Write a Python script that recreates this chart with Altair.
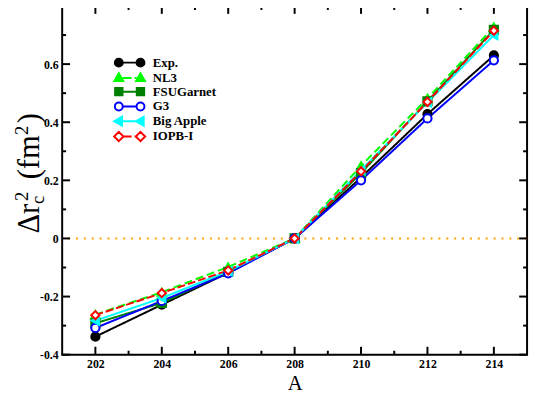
import altair as alt
import pandas as pd

# ---------------- data ----------------
A = [202, 204, 206, 208, 210, 212, 214]
series = ["Exp.", "NL3", "FSUGarnet", "G3", "Big Apple", "IOPB-I"]
exp_vals = [-0.338, -0.228, -0.118, 0.0, 0.210, 0.428, 0.630]
nl3_vals = [-0.262, -0.185, -0.098, 0.0, 0.250, 0.482, 0.728]
fsu_vals = [-0.292, -0.222, -0.115, 0.0, 0.225, 0.472, 0.718]
g3_vals = [-0.308, -0.215, -0.120, 0.0, 0.200, 0.413, 0.613]
bigapple_vals = [-0.283, -0.205, -0.113, 0.0, 0.235, 0.468, 0.700]
iopb_vals = [-0.264, -0.188, -0.110, 0.0, 0.231, 0.470, 0.715]

x_major = [202, 204, 206, 208, 210, 212, 214]
x_minor = [203, 205, 207, 209, 211, 213]
y_major = [-0.4, -0.2, 0.0, 0.2, 0.4, 0.6]
y_minor = [-0.3, -0.1, 0.1, 0.3, 0.5, 0.7]
zero_line = [0.0]

all_vals = [exp_vals, nl3_vals, fsu_vals, g3_vals, bigapple_vals, iopb_vals]
rows = []
for s, vals in zip(series, all_vals):
    for a, v in zip(A, vals):
        rows.append({"series": s, "A": a, "v": v})
df = pd.DataFrame(rows)

# ---------------- styles ----------------
colors = ["#000000", "#00ff00", "#008000", "#0000ff", "#00ffff", "#ff0000"]
fills = ["#000000", "#00ff00", "#008000", "#ffffff", "#00ffff", "#ffffff"]
dashes = [[1, 0], [8, 4], [1, 0], [1, 0], [1, 0], [8, 3]]
shapes = ["circle", "triangle-up", "square", "circle", "triangle-left", "diamond"]


def circ(cx, r=0.8):
    return f"M{cx - r},0A{r},{r} 0 1,0 {cx + r},0A{r},{r} 0 1,0 {cx - r},0Z"


def tri_up(cx):
    return f"M{cx},-0.95L{cx + 0.9},0.65L{cx - 0.9},0.65Z"


def sq(cx):
    return f"M{cx - 0.75},-0.75h1.5v1.5h-1.5Z"


def tri_left(cx):
    return f"M{cx - 0.95},0L{cx + 0.65},-0.9L{cx + 0.65},0.9Z"


def dia(cx):
    return f"M{cx},-0.95L{cx + 0.95},0L{cx},0.95L{cx - 0.95},0Z"


solid = "M-1.4,0L1.4,0"
dashed = "M-1.4,0L0.4,0M1.0,0L1.4,0"
legend_paths = [
    solid + circ(-2.2) + circ(2.2),
    dashed + tri_up(-2.2) + tri_up(2.2),
    solid + sq(-2.2) + sq(2.2),
    solid + circ(-2.2) + circ(2.2),
    solid + tri_left(-2.2) + tri_left(2.2),
    dashed + dia(-2.2) + dia(2.2),
]

FONT = "Liberation Serif"
W, H = 472, 354

xscale = alt.Scale(domain=[201, 215], nice=False, zero=False)
yscale = alt.Scale(domain=[-0.4, 0.8], nice=False, zero=False)

X_AXIS = alt.Axis(
    values=x_major, format="d", title="A", grid=False, domain=False, ticks=False,
    labelFont=FONT, labelFontWeight="bold", labelFontSize=12, labelColor="black",
    labelPadding=4, titleFont=FONT, titleFontWeight="normal", titleFontSize=21,
    titleColor="black", titlePadding=3,
)
Y_AXIS = alt.Axis(
    values=y_major, title=None, grid=False, domain=False, ticks=False,
    labelExpr="datum.value == 0 ? '0' : (datum.value < 0 ? '-' : '') + format(abs(datum.value), '.1f')",
    labelFont=FONT, labelFontWeight="bold", labelFontSize=12, labelColor="black",
    labelPadding=4,
)


def xf(field):
    return alt.X(field, type="quantitative", scale=xscale, axis=X_AXIS)


def yf(field):
    return alt.Y(field, type="quantitative", scale=yscale, axis=Y_AXIS)


base = alt.Chart(df)

# zero line
zero = alt.Chart(pd.DataFrame({"v": zero_line})).mark_rule(
    color="#ffa500", strokeWidth=2, strokeDash=[2, 6]
).encode(y=yf("v"))


# tick marks (inside, on all four sides)
def tick_layers():
    out = []
    for vals, ln in [(x_major, 8), (x_minor, 4)]:
        d = pd.DataFrame({"t": vals})
        out.append(alt.Chart(d).mark_rule(color="black", strokeWidth=2).encode(
            x=xf("t"), y=alt.value(H), y2=alt.value(H - ln)))
        out.append(alt.Chart(d).mark_rule(color="black", strokeWidth=2).encode(
            x=xf("t"), y=alt.value(0), y2=alt.value(ln)))
    for vals, ln in [(y_major, 8), (y_minor, 4)]:
        d = pd.DataFrame({"t": vals})
        out.append(alt.Chart(d).mark_rule(color="black", strokeWidth=2).encode(
            y=yf("t"), x=alt.value(0), x2=alt.value(ln)))
        out.append(alt.Chart(d).mark_rule(color="black", strokeWidth=2).encode(
            y=yf("t"), x=alt.value(W), x2=alt.value(W - ln)))
    return out


lines = base.mark_line(strokeWidth=2).encode(
    x=xf("A"), y=yf("v"),
    color=alt.Color("series:N", scale=alt.Scale(domain=series, range=colors), legend=None),
    strokeDash=alt.StrokeDash("series:N", scale=alt.Scale(domain=series, range=dashes), legend=None),
)

points = base.mark_point(size=70, strokeWidth=2, opacity=1).encode(
    x=xf("A"), y=yf("v"),
    shape=alt.Shape("series:N", scale=alt.Scale(domain=series, range=shapes), legend=None),
    stroke=alt.Stroke("series:N", scale=alt.Scale(domain=series, range=colors), legend=None),
    fill=alt.Fill("series:N", scale=alt.Scale(domain=series, range=fills), legend=None),
)

leg = alt.Legend(
    title=None, orient="none", legendX=62, legendY=51,
    labelFont=FONT, labelFontWeight="bold", labelFontSize=13, labelColor="black",
    symbolSize=100, symbolStrokeWidth=2, labelOffset=17, rowPadding=-2.5, padding=0,
)
legend_layer = base.transform_filter("datum.A < 0").mark_point(strokeWidth=2, opacity=1, size=100).encode(
    x=xf("A"), y=yf("v"),
    shape=alt.Shape("series:N", scale=alt.Scale(domain=series, range=legend_paths), legend=leg),
    stroke=alt.Stroke("series:N", scale=alt.Scale(domain=series, range=colors), legend=leg),
    fill=alt.Fill("series:N", scale=alt.Scale(domain=series, range=fills), legend=leg),
)

# y-axis title pieces (Δr_c^2 (fm^2)), rotated; page positions
title_pieces = [
    ("Δr", 31, 39, 234),
    ("c", 19, 45, 204),
    ("2", 19, 28, 201),
    ("(fm", 31, 39, 179),
    ("2", 19, 28, 134),
    (")", 31, 39, 122),
]
ox, oy = 63, 3
ytitle = []
for txt, fs, px, py in title_pieces:
    ytitle.append(
        alt.Chart(pd.DataFrame({"t": [txt]})).mark_text(
            font=FONT, fontSize=fs, angle=270, align="left", baseline="alphabetic", color="black"
        ).encode(text="t:N", x=alt.value(px - ox), y=alt.value(py - oy))
    )

chart = alt.layer(
    zero, *tick_layers(), lines, points, legend_layer, *ytitle
).resolve_scale(
    shape="independent", stroke="independent", fill="independent"
).properties(
    width=W, height=H,
    autosize=alt.AutoSizeParams(type="none"),
    padding={"left": 55, "top": -5, "right": 5, "bottom": 40},
).configure_view(stroke="black", strokeWidth=2)

chart.save("out.html", embed_options={"renderer": "svg", "actions": False})
